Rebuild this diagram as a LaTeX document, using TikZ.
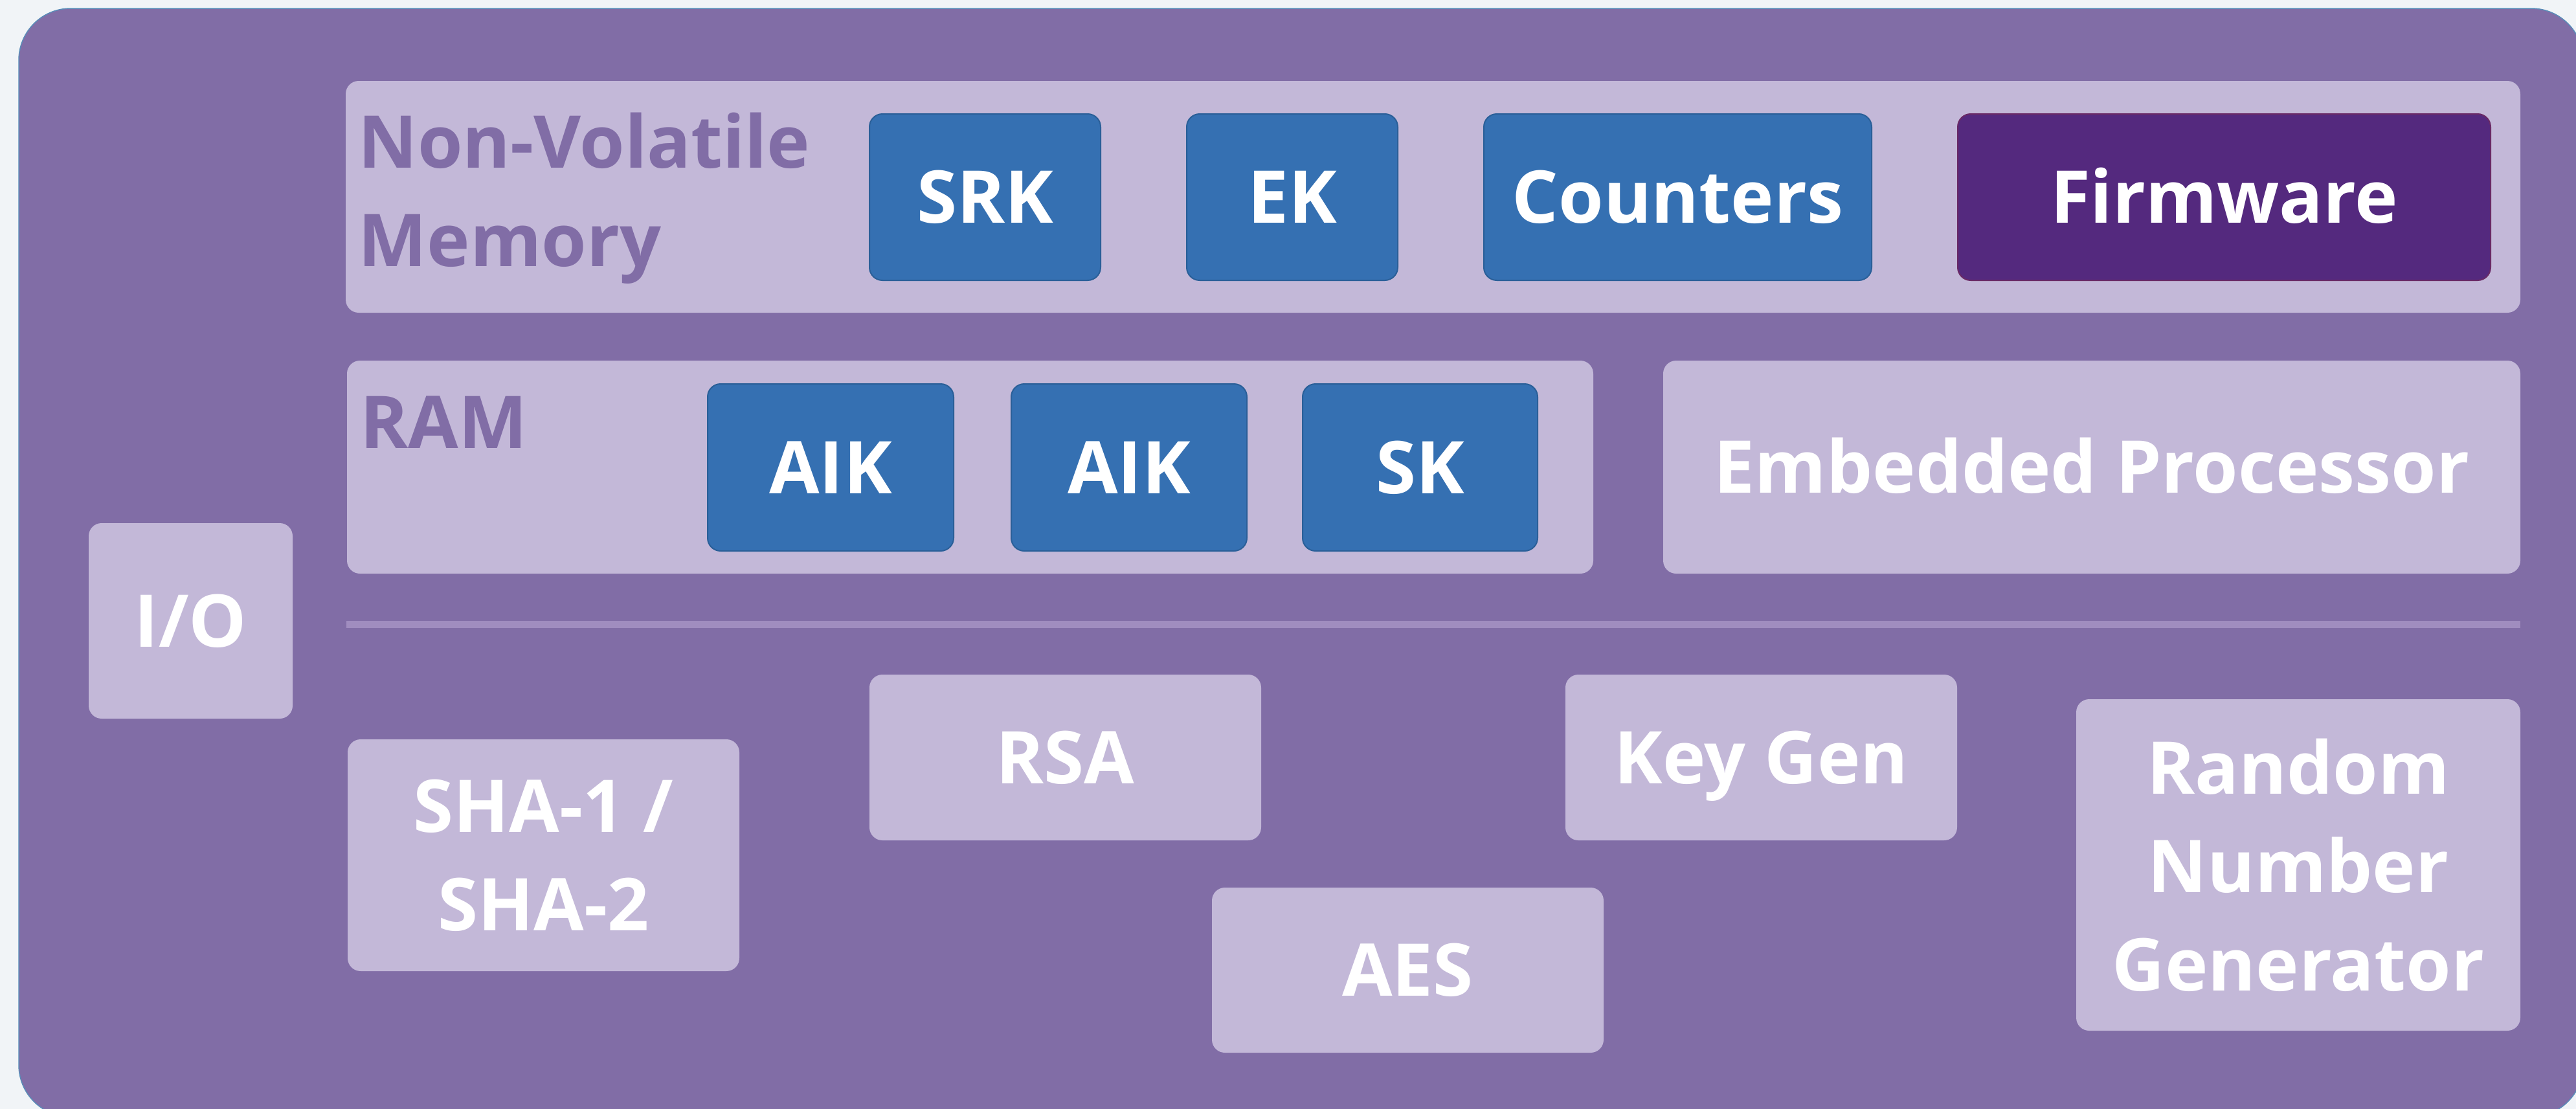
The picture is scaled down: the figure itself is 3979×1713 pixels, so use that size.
\documentclass[tikz,border=0pt]{standalone}
\usepackage{fontspec}
\setmainfont{Open Sans}
\definecolor{pagebg}{HTML}{F1F4F7}
\definecolor{chipbg}{HTML}{816DA6}
\definecolor{chipedge}{HTML}{5A8CB8}
\definecolor{lilac}{HTML}{C3B8D8}
\definecolor{keyblue}{HTML}{3570B2}
\definecolor{keyedge}{HTML}{2A5F98}
\definecolor{fwpurple}{HTML}{54297E}
\definecolor{fwedge}{HTML}{6A2A66}
\definecolor{sepcol}{HTML}{A08DBF}
\newcommand{\tpmfont}{\fontsize{32}{43.2}\selectfont\bfseries}
\begin{document}
\begin{tikzpicture}[x=0.1mm,y=-0.1mm,
  chip/.style={fill=chipbg, draw=chipedge, line width=0.15mm, rounded corners=8mm, inner sep=0pt},
  group/.style={fill=lilac, rounded corners=2mm, inner sep=0pt},
  lbox/.style={fill=lilac, rounded corners=2mm, inner sep=0pt, text=white, font=\tpmfont},
  kbox/.style={fill=keyblue, draw=keyedge, line width=0.2mm, rounded corners=2mm, inner sep=0pt, text=white, font=\tpmfont},
  fwbox/.style={fill=fwpurple, draw=fwedge, line width=0.2mm, rounded corners=2mm, inner sep=0pt, text=white, font=\tpmfont},
  capc/.style={text height=8mm, text depth=0mm},
  grouplabel/.style={text=chipbg, font=\tpmfont, inner sep=0pt, anchor=base west},
  sepline/.style={draw=sepcol, line width=1.1mm}
]
\useasboundingbox (0,0) rectangle (3979,1713);
\fill[pagebg] (0,0) rectangle (3979,1713);

% outer chip
\node[chip, minimum width=396.1mm, minimum height=171.2mm] (tpm) at (2009.5,869) {};

% Non-volatile memory
\node[group, minimum width=335.9mm, minimum height=35.8mm] (nvm) at (2213.5,304) {};
\node[grouplabel] (nvmlbla) at (553,259) {Non-Volatile};
\node[grouplabel] (nvmlblb) at (553,411) {Memory};
\node[kbox, capc, minimum width=35.7mm, minimum height=25.7mm] (srk) at (1521.5,304.5) {SRK};
\node[kbox, capc, minimum width=32.6mm, minimum height=25.7mm] (ek) at (1996,304.5) {EK};
\node[kbox, capc, minimum width=59.9mm, minimum height=25.7mm] (counters) at (2591.5,304.5) {Counters};
\node[fwbox, capc, minimum width=82.3mm, minimum height=25.7mm] (firmware) at (3435.5,304.5) {Firmware};

% RAM
\node[group, minimum width=192.5mm, minimum height=32.9mm] (ram) at (1498.5,721.5) {};
\node[grouplabel] (ramlbl) at (556,692) {RAM};
\node[kbox, capc, minimum width=38.0mm, minimum height=25.8mm] (aika) at (1283,722) {AIK};
\node[kbox, capc, minimum width=36.4mm, minimum height=25.8mm] (aikb) at (1744,722) {AIK};
\node[kbox, capc, minimum width=36.3mm, minimum height=25.8mm] (sk) at (2193.5,722) {SK};

% Embedded processor
\node[lbox, capc, minimum width=132.4mm, minimum height=32.9mm] (proc) at (3231,721.5) {Embedded Processor};

% separator
\coordinate (sepl) at (535,964.5);
\coordinate (sepr) at (3893,964.5);
\draw[sepline] (sepl) -- (sepr);

% I/O
\node[lbox, capc, minimum width=31.5mm, minimum height=30.2mm] (io) at (294.5,959) {I/O};

% crypto engines
\node[lbox, align=center, minimum width=60.5mm, minimum height=35.8mm] (sha) at (839.5,1321) {SHA-1 /\\SHA-2};
\node[lbox, capc, minimum width=60.5mm, minimum height=25.6mm] (rsa) at (1645.5,1170) {RSA};
\node[lbox, capc, minimum width=60.5mm, minimum height=25.5mm] (aes) at (2174.5,1498.5) {AES};
\node[lbox, capc, minimum width=60.5mm, minimum height=25.6mm] (keygen) at (2720.5,1170) {Key Gen};
\node[lbox, align=center, minimum width=68.6mm, minimum height=51.2mm] (rng) at (3550,1336) {Random\\Number\\Generator};
\end{tikzpicture}
\end{document}
